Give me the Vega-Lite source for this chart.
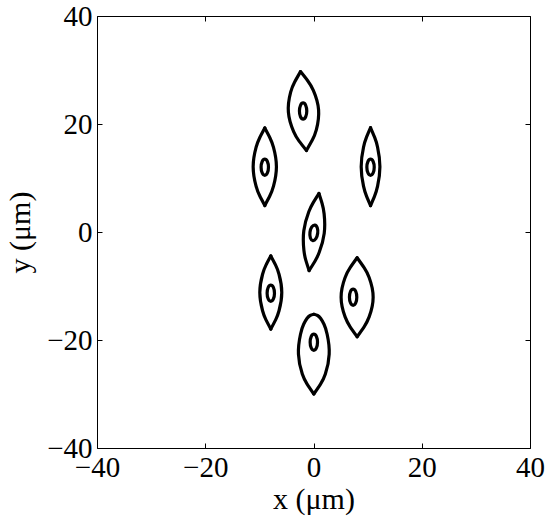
{
  "$schema": "https://vega.github.io/schema/vega-lite/v6.json",
  "width": 433,
  "height": 432,
  "autosize": "none",
  "padding": {"left": 97, "top": 16, "right": 20, "bottom": 74},
  "background": "white",
  "config": {
    "view": {"stroke": "black", "strokeWidth": 1},
    "font": "Liberation Serif",
    "axis": {
      "domain": false,
      "grid": false,
      "ticks": true,
      "tickColor": "black",
      "tickSize": -5,
      "tickWidth": 1,
      "labelColor": "black",
      "labelFont": "Liberation Serif",
      "labelFontSize": 29,
      "labelOverlap": false,
      "labelFlush": false,
      "labelBound": false,
      "titleFont": "Liberation Serif",
      "titleFontSize": 30,
      "titleFontWeight": "normal",
      "titleColor": "black"
    }
  },
  "data": {
    "values": [
      {"id": "A_R", "k": "arc", "o": 0, "x": -1.3, "y": 15.1},
      {"id": "A_R", "k": "arc", "o": 1, "x": -0.22, "y": 17.02},
      {"id": "A_R", "k": "arc", "o": 2, "x": 0.52, "y": 18.91},
      {"id": "A_R", "k": "arc", "o": 3, "x": 0.94, "y": 22.61},
      {"id": "A_R", "k": "arc", "o": 4, "x": -0.03, "y": 26.21},
      {"id": "A_R", "k": "arc", "o": 5, "x": -1.04, "y": 27.97},
      {"id": "A_R", "k": "arc", "o": 6, "x": -2.4, "y": 29.7},
      {"id": "A_L", "k": "arc", "o": 0, "x": -1.3, "y": 15.1},
      {"id": "A_L", "k": "arc", "o": 1, "x": -2.66, "y": 16.83},
      {"id": "A_L", "k": "arc", "o": 2, "x": -3.67, "y": 18.59},
      {"id": "A_L", "k": "arc", "o": 3, "x": -4.64, "y": 22.19},
      {"id": "A_L", "k": "arc", "o": 4, "x": -4.22, "y": 25.89},
      {"id": "A_L", "k": "arc", "o": 5, "x": -3.48, "y": 27.78},
      {"id": "A_L", "k": "arc", "o": 6, "x": -2.4, "y": 29.7},
      {"id": "B_R", "k": "arc", "o": 0, "x": -9.0, "y": 4.9},
      {"id": "B_R", "k": "arc", "o": 1, "x": -8.06, "y": 6.7},
      {"id": "B_R", "k": "arc", "o": 2, "x": -7.39, "y": 8.49},
      {"id": "B_R", "k": "arc", "o": 3, "x": -6.85, "y": 12.08},
      {"id": "B_R", "k": "arc", "o": 4, "x": -7.39, "y": 15.67},
      {"id": "B_R", "k": "arc", "o": 5, "x": -8.06, "y": 17.47},
      {"id": "B_R", "k": "arc", "o": 6, "x": -9.0, "y": 19.26},
      {"id": "B_L", "k": "arc", "o": 0, "x": -9.0, "y": 4.9},
      {"id": "B_L", "k": "arc", "o": 1, "x": -9.94, "y": 6.7},
      {"id": "B_L", "k": "arc", "o": 2, "x": -10.61, "y": 8.49},
      {"id": "B_L", "k": "arc", "o": 3, "x": -11.15, "y": 12.08},
      {"id": "B_L", "k": "arc", "o": 4, "x": -10.61, "y": 15.67},
      {"id": "B_L", "k": "arc", "o": 5, "x": -9.94, "y": 17.47},
      {"id": "B_L", "k": "arc", "o": 6, "x": -9.0, "y": 19.26},
      {"id": "C_R", "k": "arc", "o": 0, "x": 10.54, "y": 4.87},
      {"id": "C_R", "k": "arc", "o": 1, "x": 11.3, "y": 6.68},
      {"id": "C_R", "k": "arc", "o": 2, "x": 11.84, "y": 8.48},
      {"id": "C_R", "k": "arc", "o": 3, "x": 12.27, "y": 12.09},
      {"id": "C_R", "k": "arc", "o": 4, "x": 11.84, "y": 15.7},
      {"id": "C_R", "k": "arc", "o": 5, "x": 11.3, "y": 17.51},
      {"id": "C_R", "k": "arc", "o": 6, "x": 10.54, "y": 19.31},
      {"id": "C_L", "k": "arc", "o": 0, "x": 10.54, "y": 4.87},
      {"id": "C_L", "k": "arc", "o": 1, "x": 9.78, "y": 6.68},
      {"id": "C_L", "k": "arc", "o": 2, "x": 9.24, "y": 8.48},
      {"id": "C_L", "k": "arc", "o": 3, "x": 8.81, "y": 12.09},
      {"id": "C_L", "k": "arc", "o": 4, "x": 9.24, "y": 15.7},
      {"id": "C_L", "k": "arc", "o": 5, "x": 9.78, "y": 17.51},
      {"id": "C_L", "k": "arc", "o": 6, "x": 10.54, "y": 19.31},
      {"id": "D_R", "k": "arc", "o": 0, "x": -0.81, "y": -7.15},
      {"id": "D_R", "k": "arc", "o": 1, "x": 0.24, "y": -5.47},
      {"id": "D_R", "k": "arc", "o": 2, "x": 1.06, "y": -3.76},
      {"id": "D_R", "k": "arc", "o": 3, "x": 1.98, "y": -0.25},
      {"id": "D_R", "k": "arc", "o": 4, "x": 1.96, "y": 3.38},
      {"id": "D_R", "k": "arc", "o": 5, "x": 1.6, "y": 5.24},
      {"id": "D_R", "k": "arc", "o": 6, "x": 1.0, "y": 7.13},
      {"id": "D_L", "k": "arc", "o": 0, "x": -0.81, "y": -7.15},
      {"id": "D_L", "k": "arc", "o": 1, "x": -1.41, "y": -5.26},
      {"id": "D_L", "k": "arc", "o": 2, "x": -1.77, "y": -3.4},
      {"id": "D_L", "k": "arc", "o": 3, "x": -1.79, "y": 0.23},
      {"id": "D_L", "k": "arc", "o": 4, "x": -0.87, "y": 3.74},
      {"id": "D_L", "k": "arc", "o": 5, "x": -0.05, "y": 5.45},
      {"id": "D_L", "k": "arc", "o": 6, "x": 1.0, "y": 7.13},
      {"id": "E_R", "k": "arc", "o": 0, "x": -7.89, "y": -17.96},
      {"id": "E_R", "k": "arc", "o": 1, "x": -7.0, "y": -16.27},
      {"id": "E_R", "k": "arc", "o": 2, "x": -6.37, "y": -14.58},
      {"id": "E_R", "k": "arc", "o": 3, "x": -5.86, "y": -11.2},
      {"id": "E_R", "k": "arc", "o": 4, "x": -6.37, "y": -7.82},
      {"id": "E_R", "k": "arc", "o": 5, "x": -7.0, "y": -6.13},
      {"id": "E_R", "k": "arc", "o": 6, "x": -7.89, "y": -4.44},
      {"id": "E_L", "k": "arc", "o": 0, "x": -7.89, "y": -17.96},
      {"id": "E_L", "k": "arc", "o": 1, "x": -8.78, "y": -16.27},
      {"id": "E_L", "k": "arc", "o": 2, "x": -9.41, "y": -14.58},
      {"id": "E_L", "k": "arc", "o": 3, "x": -9.92, "y": -11.2},
      {"id": "E_L", "k": "arc", "o": 4, "x": -9.41, "y": -7.82},
      {"id": "E_L", "k": "arc", "o": 5, "x": -8.78, "y": -6.13},
      {"id": "E_L", "k": "arc", "o": 6, "x": -7.89, "y": -4.44},
      {"id": "F_R", "k": "arc", "o": 0, "x": 8.06, "y": -19.39},
      {"id": "F_R", "k": "arc", "o": 1, "x": 9.35, "y": -17.55},
      {"id": "F_R", "k": "arc", "o": 2, "x": 10.28, "y": -15.72},
      {"id": "F_R", "k": "arc", "o": 3, "x": 11.02, "y": -12.07},
      {"id": "F_R", "k": "arc", "o": 4, "x": 10.28, "y": -8.42},
      {"id": "F_R", "k": "arc", "o": 5, "x": 9.35, "y": -6.59},
      {"id": "F_R", "k": "arc", "o": 6, "x": 8.06, "y": -4.76},
      {"id": "F_L", "k": "arc", "o": 0, "x": 8.06, "y": -19.39},
      {"id": "F_L", "k": "arc", "o": 1, "x": 6.77, "y": -17.55},
      {"id": "F_L", "k": "arc", "o": 2, "x": 5.84, "y": -15.72},
      {"id": "F_L", "k": "arc", "o": 3, "x": 5.1, "y": -12.07},
      {"id": "F_L", "k": "arc", "o": 4, "x": 5.84, "y": -8.42},
      {"id": "F_L", "k": "arc", "o": 5, "x": 6.77, "y": -6.59},
      {"id": "F_L", "k": "arc", "o": 6, "x": 8.06, "y": -4.76},
      {"id": "G_R", "k": "arc", "o": 0, "x": 0.06, "y": -30.0},
      {"id": "G_R", "k": "arc", "o": 1, "x": 1.3, "y": -28.16},
      {"id": "G_R", "k": "arc", "o": 2, "x": 2.19, "y": -26.31},
      {"id": "G_R", "k": "arc", "o": 3, "x": 2.9, "y": -22.62},
      {"id": "G_R", "k": "arc", "o": 4, "x": 2.52, "y": -18.93},
      {"id": "G_R", "k": "arc", "o": 5, "x": 1.94, "y": -17.09},
      {"id": "G_R", "k": "arc", "o": 6, "x": 1.3, "y": -15.98},
      {"id": "G_R", "k": "arc", "o": 7, "x": 0.75, "y": -15.46},
      {"id": "G_R", "k": "arc", "o": 8, "x": 0.06, "y": -15.24},
      {"id": "G_L", "k": "arc", "o": 0, "x": 0.06, "y": -30.0},
      {"id": "G_L", "k": "arc", "o": 1, "x": -1.18, "y": -28.16},
      {"id": "G_L", "k": "arc", "o": 2, "x": -2.07, "y": -26.31},
      {"id": "G_L", "k": "arc", "o": 3, "x": -2.78, "y": -22.62},
      {"id": "G_L", "k": "arc", "o": 4, "x": -2.4, "y": -18.93},
      {"id": "G_L", "k": "arc", "o": 5, "x": -1.82, "y": -17.09},
      {"id": "G_L", "k": "arc", "o": 6, "x": -1.18, "y": -15.98},
      {"id": "G_L", "k": "arc", "o": 7, "x": -0.63, "y": -15.46},
      {"id": "G_L", "k": "arc", "o": 8, "x": 0.06, "y": -15.24},
      {"id": "nA", "k": "nuc", "o": 0, "x": -1.24, "y": 22.4},
      {"id": "nA", "k": "nuc", "o": 1, "x": -1.44, "y": 23.46},
      {"id": "nA", "k": "nuc", "o": 2, "x": -1.92, "y": 23.9},
      {"id": "nA", "k": "nuc", "o": 3, "x": -2.4, "y": 23.46},
      {"id": "nA", "k": "nuc", "o": 4, "x": -2.6, "y": 22.4},
      {"id": "nA", "k": "nuc", "o": 5, "x": -2.4, "y": 21.34},
      {"id": "nA", "k": "nuc", "o": 6, "x": -1.92, "y": 20.9},
      {"id": "nA", "k": "nuc", "o": 7, "x": -1.44, "y": 21.34},
      {"id": "nB", "k": "nuc", "o": 0, "x": -8.32, "y": 12.0},
      {"id": "nB", "k": "nuc", "o": 1, "x": -8.52, "y": 13.06},
      {"id": "nB", "k": "nuc", "o": 2, "x": -9.0, "y": 13.5},
      {"id": "nB", "k": "nuc", "o": 3, "x": -9.48, "y": 13.06},
      {"id": "nB", "k": "nuc", "o": 4, "x": -9.68, "y": 12.0},
      {"id": "nB", "k": "nuc", "o": 5, "x": -9.48, "y": 10.94},
      {"id": "nB", "k": "nuc", "o": 6, "x": -9.0, "y": 10.5},
      {"id": "nB", "k": "nuc", "o": 7, "x": -8.52, "y": 10.94},
      {"id": "nC", "k": "nuc", "o": 0, "x": 11.22, "y": 12.0},
      {"id": "nC", "k": "nuc", "o": 1, "x": 11.02, "y": 13.06},
      {"id": "nC", "k": "nuc", "o": 2, "x": 10.54, "y": 13.5},
      {"id": "nC", "k": "nuc", "o": 3, "x": 10.06, "y": 13.06},
      {"id": "nC", "k": "nuc", "o": 4, "x": 9.86, "y": 12.0},
      {"id": "nC", "k": "nuc", "o": 5, "x": 10.06, "y": 10.94},
      {"id": "nC", "k": "nuc", "o": 6, "x": 10.54, "y": 10.5},
      {"id": "nC", "k": "nuc", "o": 7, "x": 11.02, "y": 10.94},
      {"id": "nD", "k": "nuc", "o": 0, "x": 0.774, "y": -0.24},
      {"id": "nD", "k": "nuc", "o": 1, "x": 0.693, "y": 0.803},
      {"id": "nD", "k": "nuc", "o": 2, "x": 0.242, "y": 1.288},
      {"id": "nD", "k": "nuc", "o": 3, "x": -0.316, "y": 0.93},
      {"id": "nD", "k": "nuc", "o": 4, "x": -0.654, "y": -0.06},
      {"id": "nD", "k": "nuc", "o": 5, "x": -0.573, "y": -1.103},
      {"id": "nD", "k": "nuc", "o": 6, "x": -0.122, "y": -1.588},
      {"id": "nD", "k": "nuc", "o": 7, "x": 0.436, "y": -1.23},
      {"id": "nE", "k": "nuc", "o": 0, "x": -7.21, "y": -11.33},
      {"id": "nE", "k": "nuc", "o": 1, "x": -7.41, "y": -10.27},
      {"id": "nE", "k": "nuc", "o": 2, "x": -7.89, "y": -9.83},
      {"id": "nE", "k": "nuc", "o": 3, "x": -8.37, "y": -10.27},
      {"id": "nE", "k": "nuc", "o": 4, "x": -8.57, "y": -11.33},
      {"id": "nE", "k": "nuc", "o": 5, "x": -8.37, "y": -12.39},
      {"id": "nE", "k": "nuc", "o": 6, "x": -7.89, "y": -12.83},
      {"id": "nE", "k": "nuc", "o": 7, "x": -7.41, "y": -12.39},
      {"id": "nF", "k": "nuc", "o": 0, "x": 8.0, "y": -12.07},
      {"id": "nF", "k": "nuc", "o": 1, "x": 7.8, "y": -11.01},
      {"id": "nF", "k": "nuc", "o": 2, "x": 7.32, "y": -10.57},
      {"id": "nF", "k": "nuc", "o": 3, "x": 6.84, "y": -11.01},
      {"id": "nF", "k": "nuc", "o": 4, "x": 6.64, "y": -12.07},
      {"id": "nF", "k": "nuc", "o": 5, "x": 6.84, "y": -13.13},
      {"id": "nF", "k": "nuc", "o": 6, "x": 7.32, "y": -13.57},
      {"id": "nF", "k": "nuc", "o": 7, "x": 7.8, "y": -13.13},
      {"id": "nG", "k": "nuc", "o": 0, "x": 0.74, "y": -20.41},
      {"id": "nG", "k": "nuc", "o": 1, "x": 0.54, "y": -19.35},
      {"id": "nG", "k": "nuc", "o": 2, "x": 0.06, "y": -18.91},
      {"id": "nG", "k": "nuc", "o": 3, "x": -0.42, "y": -19.35},
      {"id": "nG", "k": "nuc", "o": 4, "x": -0.62, "y": -20.41},
      {"id": "nG", "k": "nuc", "o": 5, "x": -0.42, "y": -21.47},
      {"id": "nG", "k": "nuc", "o": 6, "x": 0.06, "y": -21.91},
      {"id": "nG", "k": "nuc", "o": 7, "x": 0.54, "y": -21.47}
    ]
  },
  "layer": [
    {
      "transform": [{"filter": "datum.k === 'arc'"}],
      "mark": {"type": "line", "interpolate": "natural", "color": "black", "strokeWidth": 3.2, "strokeJoin": "miter", "strokeCap": "round"},
      "encoding": {
        "x": {"field": "x", "type": "quantitative", "scale": {"domain": [-40, 40], "nice": false, "zero": false},
              "axis": {"orient": "bottom", "values": [-40, -20, 0, 20, 40], "title": "x (μm)", "labelPadding": 10, "titlePadding": 2}},
        "y": {"field": "y", "type": "quantitative", "scale": {"domain": [-40, 40], "nice": false, "zero": false},
              "axis": {"orient": "left", "values": [-40, -20, 0, 20, 40], "title": "y (μm)", "labelPadding": 10, "titlePadding": 11}},
        "detail": {"field": "id"},
        "order": {"field": "o", "type": "quantitative"}
      }
    },
    {
      "transform": [{"filter": "datum.k === 'nuc'"}],
      "mark": {"type": "line", "interpolate": "cardinal-closed", "color": "black", "strokeWidth": 3.2},
      "encoding": {
        "x": {"field": "x", "type": "quantitative",
              "axis": {"orient": "top", "values": [-40, -20, 0, 20, 40], "labels": false, "title": null}},
        "y": {"field": "y", "type": "quantitative",
              "axis": {"orient": "right", "values": [-40, -20, 0, 20, 40], "labels": false, "title": null}},
        "detail": {"field": "id"},
        "order": {"field": "o", "type": "quantitative"}
      }
    }
  ],
  "resolve": {"axis": {"x": "independent", "y": "independent"}}
}
